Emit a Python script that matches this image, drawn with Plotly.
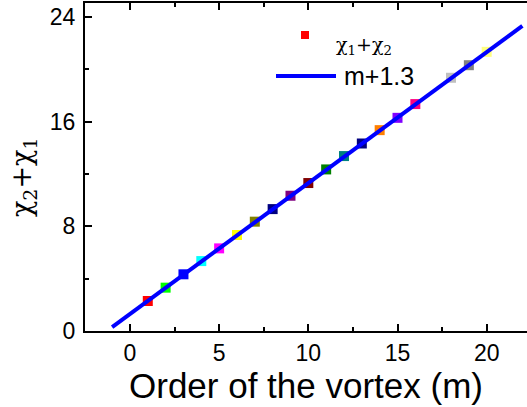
import plotly.graph_objects as go

# Data
m_values = [1, 2, 3, 4, 5, 6, 7, 8, 9, 10, 11, 12, 13, 14, 15, 16, 18, 19, 20]
chi_sum = [2.29, 3.31, 4.33, 5.34, 6.31, 7.33, 8.35, 9.31, 10.33, 11.30,
           12.34, 13.36, 14.32, 15.34, 16.28, 17.33, 19.34, 20.30, 21.32]
point_colors = ["#ff0000", "#00ff00", "#0000ff", "#00ffff", "#ff00ff", "#ffff00",
                "#808000", "#000080", "#800080", "#800000", "#008000", "#008080",
                "#000080", "#ff8000", "#8000ff", "#ff0080", "#c0c0c0", "#808080",
                "#ffff80"]
fit_x = [-1, 22]
fit_offset = 1.3
fit_y = [x + fit_offset for x in fit_x]

x_ticks = [0, 5, 10, 15, 20]
y_ticks = [0, 8, 16, 24]

W, H = 527, 407
ML, MR, MT, MB = 85, 0, 3, 76

fig = go.Figure()
fig.add_trace(go.Scatter(
    x=m_values, y=chi_sum, mode="markers",
    marker=dict(symbol="square", size=10, color=point_colors, line=dict(width=0)),
    showlegend=False, hoverinfo="skip"))
fig.add_trace(go.Scatter(
    x=fit_x, y=fit_y, mode="lines",
    line=dict(color="#0000ff", width=4),
    showlegend=False, hoverinfo="skip"))

axis_common = dict(
    showline=True, linecolor="black", linewidth=2,
    ticks="inside", ticklen=7, tickwidth=1.5, tickcolor="black",
    showgrid=False, zeroline=False,
    tickfont=dict(family="Arial, Liberation Sans", size=23, color="black"),
)

fig.update_xaxes(
    range=[-2.52, 22.26], tickvals=x_ticks, mirror="allticks",
    minor=dict(ticks="inside", ticklen=4, tickwidth=1.5, tickcolor="black", dtick=2.5, tick0=0),
    title=dict(text="Order of the vortex (m)",
               font=dict(family="Arial, Liberation Sans", size=35, color="black"),
               standoff=3),
    **axis_common)
fig.update_yaxes(
    range=[0, 25.05], tickvals=y_ticks, mirror=False, ticklabelstandoff=3,
    minor=dict(ticks="inside", ticklen=4, tickwidth=1.5, tickcolor="black", dtick=4, tick0=0),
    **axis_common)

pw = W - ML - MR
ph = H - MT - MB

def px_x(px):
    return (px - ML) / pw

def px_y(py):
    return 1 - (py - MT) / ph

serif = "DejaVu Serif, Liberation Serif, serif"

# y-axis title
fig.add_annotation(
    text="χ<sub>2</sub>+χ<sub>1</sub>", textangle=-90,
    x=px_x(23), y=px_y(178), xref="paper", yref="paper",
    xanchor="center", yanchor="middle", showarrow=False,
    font=dict(family=serif, size=27, color="black"))

# legend
fig.add_shape(type="rect", xref="paper", yref="paper",
              x0=px_x(301), x1=px_x(309), y0=px_y(39), y1=px_y(31),
              fillcolor="#ff0000", line=dict(width=0))
fig.add_annotation(
    text="χ<sub>1</sub>+χ<sub>2</sub>", x=px_x(334), y=px_y(45),
    xref="paper", yref="paper", xanchor="left", yanchor="middle", showarrow=False,
    font=dict(family=serif, size=19, color="black"))
fig.add_shape(type="line", xref="paper", yref="paper",
              x0=px_x(276), x1=px_x(336), y0=px_y(76), y1=px_y(76),
              line=dict(color="#0000ff", width=4))
fig.add_annotation(
    text="m+1.3", x=px_x(342), y=px_y(76),
    xref="paper", yref="paper", xanchor="left", yanchor="middle", showarrow=False,
    font=dict(family="Arial, Liberation Sans", size=25, color="black"))

fig.update_layout(
    width=W, height=H,
    margin=dict(l=ML, r=MR, t=MT, b=MB),
    paper_bgcolor="white", plot_bgcolor="white",
    showlegend=False,
)

fig.write_html("out.html")
